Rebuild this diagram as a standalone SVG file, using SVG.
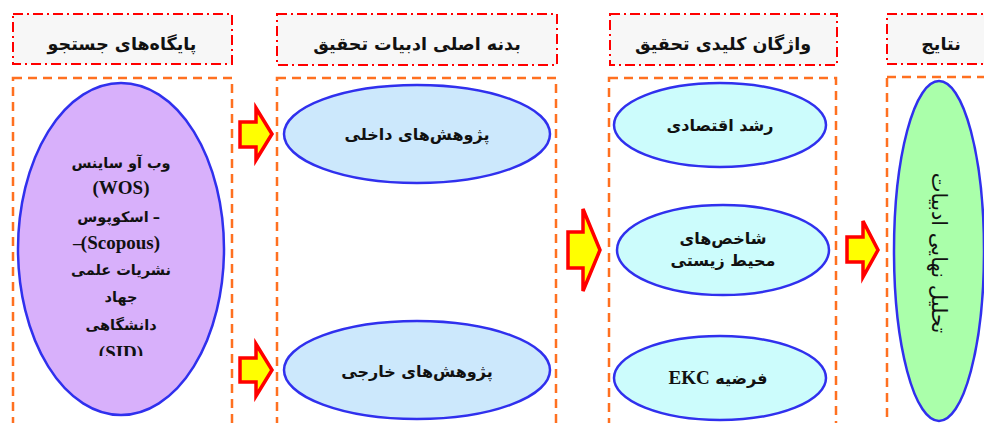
<svg xmlns="http://www.w3.org/2000/svg" width="984" height="423" viewBox="0 0 984 423">
<style>
.hdr{fill:#f7f7f7;stroke:#ff0000;stroke-width:2;stroke-dasharray:10 4 2 4}
.col{fill:none;stroke:#ff7020;stroke-width:2.5;stroke-dasharray:9 6}
.ell{stroke:#3030ee;stroke-width:2.5}
.arr{fill:#ffff00;stroke:#ff0000;stroke-width:3.5;stroke-linejoin:miter}
text{font-family:"DejaVu Sans",sans-serif;font-weight:bold;fill:#111;text-anchor:middle}
.fa{direction:rtl;unicode-bidi:embed}
.h{font-size:17.5px}
.t{font-size:16px}
.s{font-size:14.5px}
.lat{font-family:"Liberation Serif",serif;font-size:19px}
</style>
<defs>
<clipPath id="c1"><rect x="0" y="0" width="250" height="356"/></clipPath>
</defs>
<g id="header-1"><rect class="hdr" x="13" y="14" width="219" height="50"/><text class="h fa" x="122" y="50">پایگاه‌های جستجو</text></g>
<g id="header-2"><rect class="hdr" x="277" y="14" width="280" height="51"/><text class="h fa" x="417" y="50">بدنه اصلی ادبیات تحقیق</text></g>
<g id="header-3"><rect class="hdr" x="610" y="14" width="227" height="51"/><text class="h fa" x="723" y="50">واژگان کلیدی تحقیق</text></g>
<g id="header-4"><rect class="hdr" x="887" y="14" width="110" height="50"/><text class="h fa" x="941" y="50">نتایج</text></g>
<g id="column-1"><rect class="col" x="13" y="78" width="219" height="360"/>
<ellipse class="ell" cx="121" cy="249" rx="103" ry="166" fill="#d8b0fb"/>
<g clip-path="url(#c1)">
<text class="s fa" x="121" y="168">وب آو ساینس</text>
<text class="lat" x="121" y="194">(WOS)</text>
<text class="s fa" x="113" y="222">اسکوپوس</text>
<text class="s" x="160" y="222" style="text-anchor:end">–</text>
<text class="lat" x="73" y="249" style="text-anchor:start">–</text>
<text class="lat" x="160" y="249" style="text-anchor:end">(Scopous)</text>
<text class="s fa" x="121" y="275">نشریات علمی</text>
<text class="s fa" x="121" y="302">جهاد</text>
<text class="s fa" x="121" y="330">دانشگاهی</text>
<text class="lat" x="121" y="359">(SID)</text>
</g></g>
<g id="column-2"><rect class="col" x="277" y="78" width="279" height="360"/></g>
<g id="node-internal"><ellipse class="ell" cx="417" cy="134" rx="133" ry="49" fill="#cce8fc"/><text class="t fa" x="417" y="140">پژوهش‌های داخلی</text></g>
<g id="node-external"><ellipse class="ell" cx="417" cy="370" rx="133" ry="49" fill="#cce8fc"/><text class="t fa" x="417" y="377">پژوهش‌های خارجی</text></g>
<g id="column-3"><rect class="col" x="609" y="78" width="227" height="360"/></g>
<g id="node-growth"><ellipse class="ell" cx="720" cy="125" rx="106" ry="42" fill="#ccfcfc"/><text class="t fa" x="720" y="131">رشد اقتصادی</text></g>
<g id="node-env"><ellipse class="ell" cx="723" cy="250" rx="106" ry="45" fill="#ccfcfc"/><text class="t fa" x="723" y="244">شاخص‌های</text><text class="t fa" x="723" y="266">محیط زیستی</text></g>
<g id="node-ekc"><ellipse class="ell" cx="720" cy="378" rx="106" ry="42" fill="#ccfcfc"/><text class="t fa" x="718" y="384">فرضیه <tspan class="lat">EKC</tspan></text></g>
<g id="column-4"><rect class="col" x="887" y="77" width="110" height="360"/></g>
<g id="node-final"><ellipse class="ell" cx="939" cy="251" rx="45" ry="170" fill="#aaffaa"/><text class="fa" transform="translate(932 253) rotate(90)" style="font-weight:normal;font-size:21px">تحلیل نهایی ادبیات</text></g>
<g id="connectors">
<polygon class="arr" points="240,122 256,122 256,108 272,134 256,160 256,147 240,147"/>
<polygon class="arr" points="240,358 256,358 256,344 272,370 256,396 256,382 240,382"/>
<polygon class="arr" points="568,232 583,232 583,209 600,250 583,291 583,268 568,268"/>
<polygon class="arr" points="847,237 863,237 863,221 878,250 863,277 863,262 847,262"/>
</g>
</svg>
